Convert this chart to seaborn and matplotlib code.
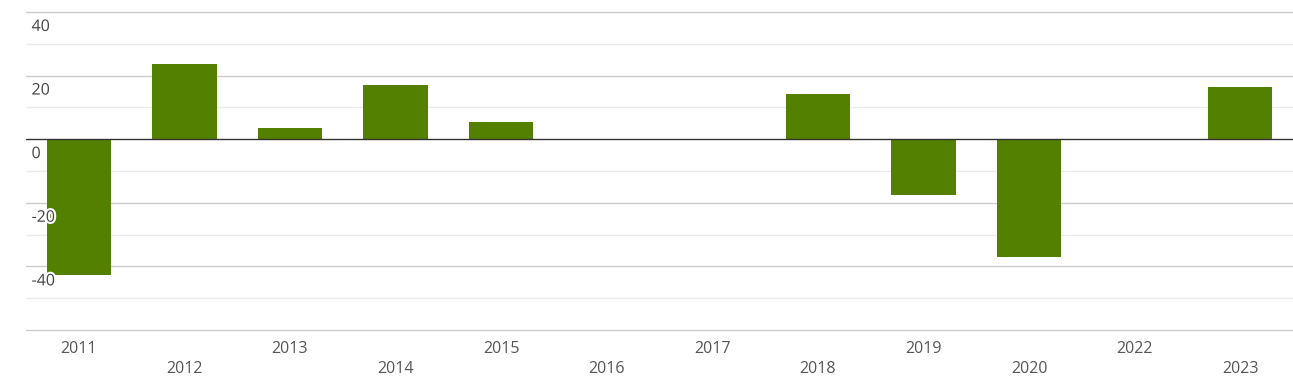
import numpy as np
import pandas as pd
import seaborn as sns
import matplotlib.pyplot as plt
import matplotlib.patheffects as pe
from matplotlib.transforms import blended_transform_factory

# --- data ---
years = ['2011', '2012', '2013', '2014', '2015', '2016', '2017', '2018', '2019', '2020', '2022', '2023']
values = [-42.8, 23.6, 3.5, 17.0, 5.4, 0.0, 0.0, 14.2, -17.6, -37.2, 0.0, 16.4]
y_ticks = [40, 20, 0, -20, -40]

df = pd.DataFrame({'year': years, 'value': values})

sns.set_theme(style='white')
plt.rcParams['font.family'] = ['Open Sans', 'DejaVu Sans']

fig = plt.figure(figsize=(12.93, 3.84), dpi=100)
ax = fig.add_axes([26 / 1293, 1 - 330 / 384, (1293 - 26) / 1293, (330 - 12) / 384])

sns.barplot(data=df, x='year', y='value', color='#548000', saturation=1,
            width=0.61, linewidth=0, ax=ax, zorder=3)

ax.set_ylim(-60, 40)
ax.set_xlim(-0.5, len(years) - 0.5)

# gridlines
for v in [30, 10, -10, -30, -50]:
    ax.axhline(v, color='#ebebeb', lw=1, zorder=1)
for v in [40, 20, -20, -40, -60]:
    ax.axhline(v, color='#cccccc', lw=1, zorder=1, clip_on=False)
ax.axhline(0, color='#333333', lw=1, zorder=4)

for s in ax.spines.values():
    s.set_visible(False)
ax.set_yticks([])
ax.set_xlabel('')
ax.set_ylabel('')

# y labels inside the plot, under each gridline
trans = blended_transform_factory(ax.transAxes, ax.transData)
for v in y_ticks:
    ax.annotate(str(v), xy=(0, v), xycoords=trans, xytext=(4, -5),
                textcoords='offset points', ha='left', va='top',
                fontsize=11.5, color='#444444', zorder=5,
                path_effects=[pe.withStroke(linewidth=3, foreground='white')])

# staggered x labels
labels = [y if i % 2 == 0 else '\n' + y for i, y in enumerate(years)]
ax.set_xticks(range(len(years)))
ax.set_xticklabels(labels, fontsize=11.5, color='#555555', linespacing=1.35)
ax.tick_params(axis='x', length=0, pad=8)

fig.savefig('out.png', dpi=100)
